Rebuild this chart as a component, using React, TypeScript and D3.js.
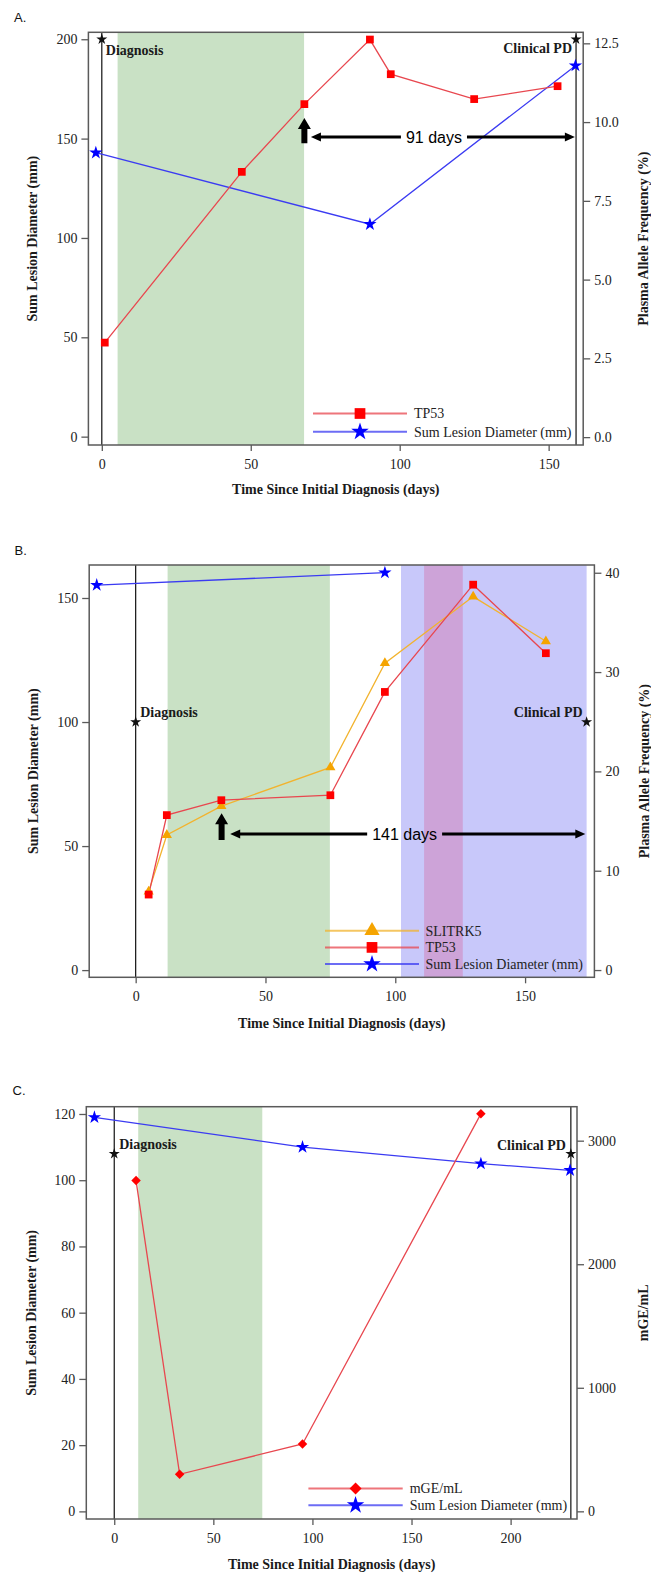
import React, { useEffect, useRef } from "react";
import * as d3 from "d3";

const SERIF = "'Liberation Serif', 'Times New Roman', serif";
const SANS = "'Liberation Sans', Arial, sans-serif";

// ---- Panel A ----
const aTp53Days = [1, 47, 68, 90, 97, 125, 153];
const aTp53 = [3.0, 8.42, 10.57, 12.62, 11.52, 10.73, 11.14];
const aLesionDays = [-2, 90, 159];
const aLesion = [142.9, 106.9, 186.7];
const aXTicks = [0, 50, 100, 150];
const aLeftTicks = [0, 50, 100, 150, 200];
const aRightTicks = [0, 2.5, 5, 7.5, 10, 12.5];

// ---- Panel B ----
const bLesionDays = [-15, 96];
const bLesion = [155.2, 160.2];
const bAfDays = [5, 12, 33, 75, 96, 130, 158];
const bSlitrk5 = [7.9, 13.6, 16.5, 20.4, 30.9, 37.6, 33.1];
const bTp53 = [7.6, 15.6, 17.1, 17.6, 28.0, 38.8, 31.9];
const bXTicks = [0, 50, 100, 150];
const bLeftTicks = [0, 50, 100, 150];
const bRightTicks = [0, 10, 20, 30, 40];

// ---- Panel C ----
const cMgeDays = [11, 33, 95, 185];
const cMge = [2677, 300, 545, 3217];
const cLesionDays = [-10, 95, 185, 230];
const cLesion = [119, 110, 105, 103];
const cXTicks = [0, 50, 100, 150, 200];
const cLeftTicks = [0, 20, 40, 60, 80, 100, 120];
const cRightTicks = [0, 1000, 2000, 3000];

const GREEN = "#c9e1c5";
const LAVENDER = "#c8c8fa";
const PURPLE = "#cda3d8";
const RED_LINE = "#e8474f";
const BLUE_LINE = "#3b3bf2";
const ORANGE_LINE = "#f2b32e";

const lesionSeries = (days, values) => ({
  name: "Sum Lesion Diameter (mm)",
  days,
  values,
  axis: "left",
  line: BLUE_LINE,
  fill: "#0000ff",
  symbol: d3.symbolStar,
  rotate: 0,
  size: 55,
  legendSize: 95,
});

const tp53Series = (days, values) => ({
  name: "TP53",
  days,
  values,
  axis: "right",
  line: RED_LINE,
  fill: "#ff0000",
  symbol: d3.symbolSquare,
  rotate: 0,
  size: 60,
  legendSize: 115,
});

const panels = [
  {
    label: "A.",
    labelPos: [14, 17],
    frame: { left: 88.4, top: 32.3, right: 583.2, bottom: 445 },
    xDomain: [-4.5, 161.6],
    leftDomain: [-4.2, 203.5],
    rightDomain: [-0.25, 12.85],
    xTicks: aXTicks,
    leftTicks: aLeftTicks,
    rightTicks: aRightTicks,
    rightFormat: ".1f",
    rightTitle: "Plasma Allele Frequency (%)",
    titles: { leftX: 32, rightX: 643, bottomY: 489 },
    bands: [{ from: 5.3, to: 67.9, color: GREEN }],
    events: [
      { day: 0, value: 200, text: "Diagnosis", anchor: "start", dx: 4, dy: 16, line: true },
      { day: 159.2, value: 200, text: "Clinical PD", anchor: "end", dx: -4, dy: 14, line: true },
    ],
    series: [lesionSeries(aLesionDays, aLesion), tp53Series(aTp53Days, aTp53)],
    legendOrder: ["TP53", "Sum Lesion Diameter (mm)"],
    legend: { x0: 313, x1: 407, textX: 414, y: 413.5, step: 18.2 },
    arrow: { day: 68, tip: 10.13, base: 9.33, y: 9.53, from: 70.2, to: 158.8, textDay: 111.5, text: "91 days" },
  },
  {
    label: "B.",
    labelPos: [14.5, 550],
    frame: { left: 89.2, top: 565, right: 594.4, bottom: 977.3 },
    xDomain: [-17.9, 176.7],
    leftDomain: [-2.9, 163.3],
    rightDomain: [-0.73, 40.78],
    xTicks: bXTicks,
    leftTicks: bLeftTicks,
    rightTicks: bRightTicks,
    rightFormat: "d",
    rightTitle: "Plasma Allele Frequency (%)",
    titles: { leftX: 33, rightX: 644, bottomY: 1023 },
    bands: [
      { from: 12.3, to: 74.8, color: GREEN },
      { from: 102.2, to: 173.7, color: LAVENDER },
      { from: 111.1, to: 126, color: PURPLE },
    ],
    events: [
      { day: 0, value: 100, text: "Diagnosis", anchor: "start", dx: 4.5, dy: -5.5, line: true },
      { day: 173.7, value: 100, text: "Clinical PD", anchor: "end", dx: -4, dy: -5, line: false },
    ],
    series: [
      lesionSeries(bLesionDays, bLesion),
      {
        name: "SLITRK5",
        days: bAfDays,
        values: bSlitrk5,
        axis: "right",
        line: ORANGE_LINE,
        fill: "#f5a400",
        symbol: d3.symbolTriangle,
        rotate: 0,
        size: 45,
        legendSize: 100,
      },
      tp53Series(bAfDays, bTp53),
    ],
    legendOrder: ["SLITRK5", "TP53", "Sum Lesion Diameter (mm)"],
    legend: { x0: 325, x1: 419, textX: 425.5, y: 930.7, step: 16.7 },
    arrow: { day: 33.1, tip: 15.78, base: 13.09, y: 13.7, from: 36.4, to: 173.2, textDay: 103.6, text: "141 days" },
  },
  {
    label: "C.",
    labelPos: [12.5, 1090],
    frame: { left: 86.3, top: 1106.7, right: 577, bottom: 1519 },
    xDomain: [-14.1, 233.5],
    leftDomain: [-2.3, 122.2],
    rightDomain: [-62, 3275],
    xTicks: cXTicks,
    leftTicks: cLeftTicks,
    rightTicks: cRightTicks,
    rightFormat: "d",
    rightTitle: "mGE/mL",
    titles: { leftX: 31, rightX: 643, bottomY: 1564 },
    bands: [{ from: 12.1, to: 74.7, color: GREEN }],
    events: [
      { day: 0, value: 108, text: "Diagnosis", anchor: "start", dx: 5, dy: -5, line: true },
      { day: 230.4, value: 108, text: "Clinical PD", anchor: "end", dx: -5, dy: -4, line: true },
    ],
    series: [
      lesionSeries(cLesionDays, cLesion),
      {
        name: "mGE/mL",
        days: cMgeDays,
        values: cMge,
        axis: "right",
        line: RED_LINE,
        fill: "#ff0000",
        symbol: d3.symbolSquare,
        rotate: 45,
        size: 45,
        legendSize: 72,
      },
    ],
    legendOrder: ["mGE/mL", "Sum Lesion Diameter (mm)"],
    legend: { x0: 308.4, x1: 402.7, textX: 409.7, y: 1488.5, step: 16.7 },
    arrow: null,
  },
];

function Panel({ cfg }) {
  const ref = useRef(null);

  useEffect(() => {
    const g = d3.select(ref.current);
    g.selectAll("*").remove();
    const { left, top, right, bottom } = cfg.frame;
    const x = d3.scaleLinear().domain(cfg.xDomain).range([left, right]);
    const yL = d3.scaleLinear().domain(cfg.leftDomain).range([bottom, top]);
    const yR = d3.scaleLinear().domain(cfg.rightDomain).range([bottom, top]);
    const yOf = (axis) => (axis === "left" ? yL : yR);

    // shaded treatment windows
    g.append("g")
      .selectAll("rect")
      .data(cfg.bands)
      .join("rect")
      .attr("x", (d) => x(d.from))
      .attr("y", top)
      .attr("width", (d) => x(d.to) - x(d.from))
      .attr("height", bottom - top)
      .attr("fill", (d) => d.color);

    // diagnosis / PD lines
    g.append("g")
      .selectAll("line")
      .data(cfg.events.filter((e) => e.line))
      .join("line")
      .attr("x1", (d) => x(d.day))
      .attr("x2", (d) => x(d.day))
      .attr("y1", top)
      .attr("y2", bottom)
      .attr("stroke", "#111")
      .attr("stroke-width", 1.2);

    // series lines, then markers
    cfg.series.forEach((s) => {
      const y = yOf(s.axis);
      const pts = s.days.map((d, i) => [x(d), y(s.values[i])]);
      g.append("path")
        .attr("d", d3.line()(pts))
        .attr("fill", "none")
        .attr("stroke", s.line)
        .attr("stroke-width", 1.3);
    });
    cfg.series.forEach((s) => {
      const y = yOf(s.axis);
      g.append("g")
        .selectAll("path")
        .data(s.days.map((d, i) => [x(d), y(s.values[i])]))
        .join("path")
        .attr("transform", (p) => `translate(${p[0]},${p[1]}) rotate(${s.rotate})`)
        .attr("d", d3.symbol(s.symbol, s.size)())
        .attr("fill", s.fill);
    });

    // event stars + labels
    cfg.events.forEach((e) => {
      const ex = x(e.day);
      const ey = yL(e.value);
      g.append("path")
        .attr("transform", `translate(${ex},${ey})`)
        .attr("d", d3.symbol(d3.symbolStar, 38)())
        .attr("fill", "#111");
      g.append("text")
        .attr("x", ex + e.dx)
        .attr("y", ey + e.dy)
        .attr("text-anchor", e.anchor)
        .attr("font-family", SERIF)
        .attr("font-weight", "bold")
        .attr("font-size", 14)
        .attr("fill", "#1a1a1a")
        .text(e.text);
    });

    // interval annotation
    if (cfg.arrow) {
      const a = cfg.arrow;
      const ax = x(a.day);
      const tipY = yR(a.tip);
      const baseY = yR(a.base);
      const headH = 11;
      g.append("path")
        .attr(
          "d",
          `M${ax - 3},${baseY} L${ax - 3},${tipY + headH} L${ax - 6.5},${tipY + headH} L${ax},${tipY} L${ax + 6.5},${tipY + headH} L${ax + 3},${tipY + headH} L${ax + 3},${baseY} Z`
        )
        .attr("fill", "#000");

      const hy = yR(a.y);
      const x0 = x(a.from);
      const x1 = x(a.to);
      const tx = x(a.textDay);
      const label = g
        .append("text")
        .attr("x", tx)
        .attr("y", hy)
        .attr("dy", "0.36em")
        .attr("text-anchor", "middle")
        .attr("font-family", SANS)
        .attr("font-size", 16)
        .attr("fill", "#000")
        .text(a.text);
      const half = (label.node().getComputedTextLength() || 56) / 2 + 5;
      const hl = 10;
      g.append("line")
        .attr("x1", x0 + hl - 1)
        .attr("x2", tx - half)
        .attr("y1", hy)
        .attr("y2", hy)
        .attr("stroke", "#000")
        .attr("stroke-width", 3);
      g.append("line")
        .attr("x1", tx + half)
        .attr("x2", x1 - hl + 1)
        .attr("y1", hy)
        .attr("y2", hy)
        .attr("stroke", "#000")
        .attr("stroke-width", 3);
      g.append("path")
        .attr("d", `M${x0},${hy} L${x0 + hl},${hy - 4.5} L${x0 + hl},${hy + 4.5} Z`)
        .attr("fill", "#000");
      g.append("path")
        .attr("d", `M${x1},${hy} L${x1 - hl},${hy - 4.5} L${x1 - hl},${hy + 4.5} Z`)
        .attr("fill", "#000");
    }

    // frame
    g.append("rect")
      .attr("x", left)
      .attr("y", top)
      .attr("width", right - left)
      .attr("height", bottom - top)
      .attr("fill", "none")
      .attr("stroke", "#5a5a5a")
      .attr("stroke-width", 1.5);

    // axes
    const styleAxis = (sel) => {
      sel.select(".domain").remove();
      sel.attr("font-family", SERIF).attr("font-size", 14).attr("color", "#222");
      sel.selectAll("line").attr("stroke", "#5a5a5a").attr("stroke-width", 1.3);
    };
    g.append("g")
      .attr("transform", `translate(0,${bottom})`)
      .call(d3.axisBottom(x).tickValues(cfg.xTicks).tickSize(6).tickPadding(8).tickFormat(d3.format("d")))
      .call(styleAxis);
    g.append("g")
      .attr("transform", `translate(${left},0)`)
      .call(d3.axisLeft(yL).tickValues(cfg.leftTicks).tickSize(7).tickPadding(4).tickFormat(d3.format("d")))
      .call(styleAxis);
    g.append("g")
      .attr("transform", `translate(${right},0)`)
      .call(d3.axisRight(yR).tickValues(cfg.rightTicks).tickSize(7).tickPadding(4).tickFormat(d3.format(cfg.rightFormat)))
      .call(styleAxis);

    // axis titles
    const midY = (top + bottom) / 2;
    const title = (tx, ty, rot, text) =>
      g.append("text")
        .attr("transform", `translate(${tx},${ty}) rotate(${rot})`)
        .attr("dy", "0.35em")
        .attr("text-anchor", "middle")
        .attr("font-family", SERIF)
        .attr("font-weight", "bold")
        .attr("font-size", 14)
        .attr("fill", "#1a1a1a")
        .text(text);
    title(cfg.titles.leftX, midY, -90, "Sum Lesion Diameter (mm)");
    title(cfg.titles.rightX, midY, -90, cfg.rightTitle);
    title((left + right) / 2, cfg.titles.bottomY, 0, "Time Since Initial Diagnosis (days)");

    // legend
    const lg = cfg.legend;
    cfg.legendOrder.forEach((name, i) => {
      const s = cfg.series.find((d) => d.name === name);
      const ly = lg.y + i * lg.step;
      g.append("line")
        .attr("x1", lg.x0)
        .attr("x2", lg.x1)
        .attr("y1", ly)
        .attr("y2", ly)
        .attr("stroke", s.line)
        .attr("stroke-opacity", 0.75)
        .attr("stroke-width", 2);
      g.append("path")
        .attr("transform", `translate(${(lg.x0 + lg.x1) / 2},${ly}) rotate(${s.rotate})`)
        .attr("d", d3.symbol(s.symbol, s.legendSize)())
        .attr("fill", s.fill);
      g.append("text")
        .attr("x", lg.textX)
        .attr("y", ly)
        .attr("dy", "0.35em")
        .attr("font-family", SERIF)
        .attr("font-size", 14)
        .attr("fill", "#222")
        .text(name);
    });
  }, [cfg]);

  return <g ref={ref} />;
}

export default function App() {
  return (
    <div style={{ position: "absolute", left: 0, top: 0 }}>
      <svg width={651} height={1574} style={{ display: "block", background: "#fff" }}>
        {panels.map((p) => (
          <text
            key={p.label}
            x={p.labelPos[0]}
            y={p.labelPos[1]}
            dy="0.35em"
            fontFamily={SANS}
            fontSize={13}
            fill="#111"
          >
            {p.label}
          </text>
        ))}
        {panels.map((p) => (
          <Panel key={p.label} cfg={p} />
        ))}
      </svg>
    </div>
  );
}
